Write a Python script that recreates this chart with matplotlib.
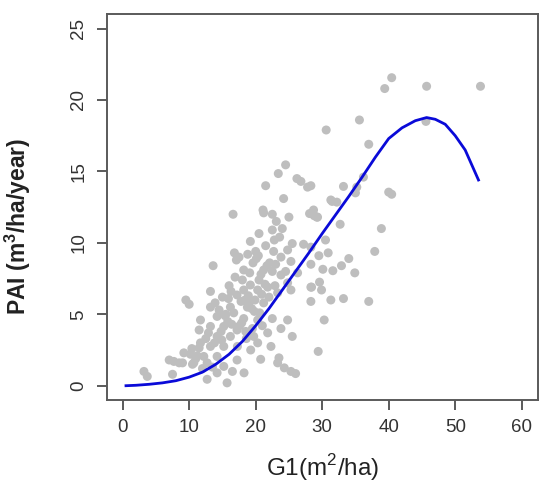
import matplotlib
matplotlib.use("Agg")
import matplotlib.pyplot as plt

# scatter points (G1, PAI)
g1 = [3.2, 3.7, 7.0, 7.7, 8.5, 9.2, 7.5, 9.5, 10.0, 10.5, 10.2, 11.2, 11.5, 11.5, 11.7, 11.7, 10.7, 9.0,
      12.2, 12.7, 12.7, 13.2, 13.2, 13.2, 13.2, 13.6, 14.2, 14.2, 14.2, 14.2, 15.0, 15.2, 15.2, 15.2, 15.7,
      16.2, 16.2, 16.6, 16.7, 16.8, 17.1, 17.2, 17.2, 17.25, 17.2, 17.5, 12.5, 13.8, 14.8, 15.8, 16.0, 12.0,
      13.5, 16.5,
      18.2, 18.2, 18.2, 18.25, 18.75, 19.2, 19.2, 19.25, 19.6, 19.7, 20.3, 20.3, 20.3, 20.5, 20.5, 20.75,
      21.2, 21.2, 21.2, 21.5, 21.1, 21.8, 21.8, 22.3, 22.5, 22.5, 22.5, 22.5, 23.3, 23.3, 23.4, 23.5, 23.8,
      23.8, 23.8, 18.8, 19.0, 19.8, 20.0, 20.8, 21.5, 22.0, 23.0, 18.5, 19.5, 21.0, 22.8, 23.1,
      24.2, 24.3, 24.5, 24.8, 24.8, 24.8, 25.3, 25.3, 25.3, 25.5, 25.5, 26.0, 26.2, 26.3, 27.8, 28.3, 28.3,
      28.3, 28.3, 28.3, 28.1, 28.4, 28.7, 28.8, 29.2, 29.3, 29.4, 29.5, 29.6, 29.9, 24.0, 25.0,
      30.1, 30.3, 30.5, 30.6, 30.9, 31.3, 31.3, 31.5, 31.6, 32.2, 32.7, 32.9, 33.2, 33.2, 34.0, 34.9, 35.0,
      35.2, 35.6, 36.2, 37.0, 37.0, 37.9, 38.9, 39.4, 40.0, 40.45, 40.45, 45.6, 45.7, 53.8,
      14.5, 15.5, 16.4, 17.8, 18.0, 18.9, 19.4, 20.1, 20.9, 21.4, 22.1, 16.9, 15.9, 14.9, 17.6, 18.6,
      19.9, 20.6, 21.7, 22.7, 16.3, 17.9, 19.1, 12.9, 13.9, 15.4, 18.4, 20.4, 22.9, 24.5, 23.6, 26.8,
      27.2, 11.0, 10.4]
pai = [1.0, 0.65, 1.8, 1.7, 1.6, 2.3, 0.8, 6.0, 5.7, 1.5, 2.2, 2.1, 2.65, 3.9, 4.6, 3.0, 1.6, 1.6,
       2.05, 1.6, 0.45, 2.75, 4.15, 5.5, 6.6, 8.4, 4.85, 3.45, 2.05, 0.9, 6.2, 4.15, 2.75, 1.35, 0.2,
       5.5, 3.45, 12.0, 5.1, 9.3, 8.8, 6.35, 3.9, 2.75, 1.8, 9.0, 3.3, 3.0, 3.8, 4.5, 7.0, 1.2,
       1.3, 1.0,
       8.1, 6.7, 4.7, 0.9, 5.5, 10.1, 7.05, 2.5, 8.6, 3.45, 6.7, 4.6, 3.0, 10.65, 7.4, 1.85,
       12.1, 8.1, 5.8, 14.0, 12.3, 6.9, 3.7, 2.75, 12.0, 10.9, 8.0, 4.7, 6.5, 1.6, 14.85, 1.95, 9.0,
       7.75, 4.0, 9.2, 5.8, 5.2, 9.4, 7.8, 9.8, 6.2, 8.5, 3.8, 4.0, 4.2, 10.2, 11.5,
       13.1, 1.25, 15.46, 9.5, 7.2, 4.6, 8.7, 6.7, 1.0, 9.95, 3.45, 0.85, 14.5, 7.9, 13.9, 14.0, 9.7,
       8.5, 6.9, 5.9, 12.05, 6.9, 12.3, 11.9, 11.8, 11.8, 2.4, 9.1, 7.25, 6.7, 11.0, 11.8,
       8.15, 4.6, 10.2, 17.9, 9.3, 13.0, 6.0, 12.9, 8.05, 12.85, 11.3, 8.4, 13.95, 6.1, 8.9, 7.9, 13.5,
       13.9, 18.6, 14.6, 16.9, 5.9, 9.4, 11.0, 20.8, 13.55, 13.4, 21.56, 18.5, 20.96, 20.96,
       5.3, 5.0, 4.3, 5.9, 7.4, 6.3, 5.4, 8.9, 6.4, 7.1, 8.6, 7.6, 6.1, 3.2, 4.2, 3.3,
       6.0, 5.1, 8.4, 9.4, 6.6, 4.4, 7.9, 3.7, 5.8, 4.9, 6.0, 9.1, 7.0, 8.0, 10.4, 14.3,
       9.9, 1.9, 2.6]

# fitted curve
curve_x = [0.5, 2, 4, 6, 8, 10, 12, 14, 16, 18, 20, 22, 24, 26, 28, 30, 32, 34, 36, 38, 40, 42,
           44, 45.7, 47, 48.5, 50, 51.5, 53.5]
curve_y = [0.0, 0.03, 0.1, 0.2, 0.35, 0.6, 0.95, 1.5, 2.2, 3.1, 4.2, 5.4, 6.7, 8.0, 9.3, 10.65,
           11.95, 13.25, 14.6, 16.0, 17.3, 18.05, 18.55, 18.77, 18.65, 18.3, 17.5, 16.5, 14.4]

x_ticks = [0, 10, 20, 30, 40, 50, 60]
y_ticks = [0, 5, 10, 15, 20, 25]

plt.rcParams['font.family'] = ['Liberation Sans', 'DejaVu Sans']
plt.rcParams['mathtext.fontset'] = 'custom'
plt.rcParams['mathtext.rm'] = 'Liberation Sans'
plt.rcParams['mathtext.bf'] = 'Liberation Sans:bold'

fig = plt.figure(figsize=(5.5, 4.99), dpi=100)
ax = fig.add_axes([0.194, 0.1984, 0.7836, 0.773])

ax.scatter(g1, pai, s=42, color='#bebebe', edgecolors='none', zorder=2)
ax.plot(curve_x, curve_y, color='#0a0ad8', linewidth=2.0, zorder=3)

ax.set_xlim(-2.4, 62.4)
ax.set_ylim(-1, 26)
ax.set_xticks(x_ticks)
ax.set_yticks(y_ticks)
ax.set_yticklabels([str(v) for v in y_ticks], rotation=90, va='center')

for s in ax.spines.values():
    s.set_color('#5a5a5a')
    s.set_linewidth(1.4)
ax.tick_params(direction='out', length=7, width=1.4, color='#5a5a5a',
               labelsize=13.5, labelcolor='#333333', pad=7)

ax.set_xlabel(r'G1(m$^2$/ha)', fontsize=17.5, color='#222222', labelpad=11)
ax.set_ylabel(r'PAI (m$^\mathbf{3}$/ha/year)', fontsize=16.5, fontweight='bold',
              color='#222222')
ax.yaxis.set_label_coords(-0.172, 0.45)

fig.savefig('out.png', dpi=100, facecolor='white')
